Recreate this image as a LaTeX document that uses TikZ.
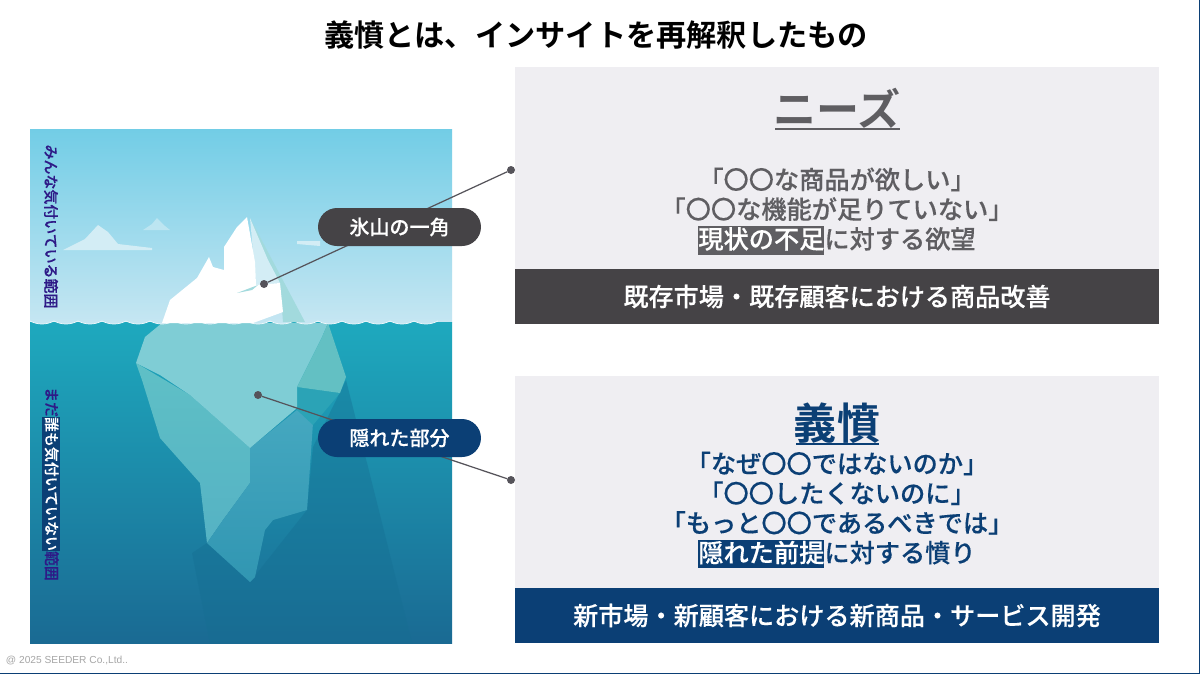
\documentclass[tikz,border=0pt]{standalone}
\usepackage{fontspec}
\setmainfont{Noto Sans CJK JP}[BoldFont={Noto Sans CJK JP Medium},BoldFeatures={FakeBold=.25}]
\newfontfamily\titlefont{Noto Sans CJK JP Bold}
\newfontfamily\latinfont{Liberation Sans}
\usepackage{xcolor}
\definecolor{ggray}{HTML}{454346}
\definecolor{tgray}{HTML}{5F5E62}
\definecolor{nnavy}{HTML}{0B3F75}
\definecolor{ppale}{HTML}{EFEEF2}
\definecolor{dotgray}{HTML}{55535A}
\definecolor{vviolet}{HTML}{2E1A87}
\definecolor{skytop}{HTML}{72CDE6}
\definecolor{skylow}{HTML}{C5E6F2}
\definecolor{seatop}{HTML}{1EA9BE}
\definecolor{sealow}{HTML}{1A6A93}
\definecolor{iceface}{HTML}{7FCDD5}
\definecolor{iceright}{HTML}{63C0C3}
\definecolor{iceleft}{HTML}{5FC0C6}
\definecolor{iceleftb}{HTML}{55B2C4}
\definecolor{icemid}{HTML}{45A8C0}
\definecolor{icemidb}{HTML}{3196B2}
\definecolor{icedark}{HTML}{2BA3B6}
\definecolor{icedeep}{HTML}{156E92}
\definecolor{icetip}{HTML}{A2DADD}
\definecolor{cloudc}{HTML}{D3EDF5}
\usepackage{tikz}
\usetikzlibrary{positioning}
\setlength{\fboxsep}{0pt}
\newcommand{\hlmark}[2]{\colorbox{#1}{\textcolor{white}{\rule[-.24em]{0pt}{1.14em}#2}}}

\begin{document}
\begin{tikzpicture}[x=.02cm,y=-.02cm,
		every node/.style={inner sep=0pt,outer sep=0pt},
		panel/.style={fill=ppale},
		barlabel/.style={text=white,font=\bfseries\fontsize{14.3}{17}\selectfont},
		quote/.style={align=center,font=\bfseries\fontsize{14.35}{16.9}\selectfont},
		heading/.style={font=\titlefont\fontsize{24.5}{28}\selectfont},
		pill/.style={rounded corners=.38cm,minimum width=3.26cm,minimum height=.76cm,text=white,font=\bfseries\fontsize{11.4}{13}\selectfont},
		dotmark/.style={circle,fill=dotgray,minimum size=.16cm},
		side/.style={rotate=-90,text=vviolet,font=\bfseries\fontsize{8.5}{10}\selectfont},
		wave/.style={fill=skylow,draw=white!70!skylow,line width=.4pt}]
	\useasboundingbox (0,0) rectangle (1200,674);
	\fill[white] (0,0) rectangle (1200,674);
	\draw[nnavy,line width=.8pt] (0,673.5) -- (1199.5,673.5) -- (1199.5,0);
	\node (title) at (596,35) {\titlefont\fontsize{17.2}{20}\selectfont 義憤とは、インサイトを再解釈したもの};

	\shade[top color=skytop,bottom color=skylow] (30,129) rectangle (452,322);
	\fill[cloudc] (63,250) -- (85,239) -- (98,225) -- (108,232) -- (118,244) -- (152,248) -- (152,250) -- cycle;
	\fill[cloudc,opacity=.6] (143,230) -- (152,224) -- (157,218) -- (165,226) -- (170,230) -- cycle;
	\fill[cloudc] (297,241) -- (320,241) -- (320,246) -- (297,244) -- cycle;
	\shade[top color=seatop,bottom color=sealow] (30,322) rectangle (452,643);

	\fill[icedeep,opacity=.4] (192,553) -- (207,543) -- (250,582) -- (307,510) -- (313,447) -- (346,380) -- (367,463) -- (412,643) -- (210,643) -- cycle;
	\shade[top color=iceleft,bottom color=iceleftb] (136,363) -- (142,380) -- (160,438) -- (200,483) -- (207,543) -- (223,520) -- (250,483) -- (250,448) -- (190,395) -- cycle;
	\shade[top color=icemid,bottom color=icemidb] (250,448) -- (297,410) -- (313,423) -- (307,510) -- (273,520) -- (265,530) -- (255,577) -- (250,582) -- (207,543) -- (223,520) -- (250,483) -- cycle;
	\fill[icedark] (297,387) -- (340,393) -- (313,425) -- (297,410) -- cycle;
	\fill[iceface] (162,323) -- (145,337) -- (136,363) -- (160,375) -- (190,395) -- (250,448) -- (297,408) -- (297,387) -- (322,337) -- (328,323) -- cycle;
	\fill[iceright] (328,323) -- (346,377) -- (340,393) -- (297,387) -- (322,337) -- cycle;

	\foreach \wx in {30,54,...,430} {
		\draw[wave] (\wx,321) .. controls (\wx+8,325) and (\wx+16,325) .. (\wx+24,321);
	}
	\fill[icetip] (250,218) -- (305,322) -- (283,322) -- (280,283) -- (268,260) -- cycle;
	\fill[cloudc] (250,218) -- (268,260) -- (280,283) -- (256,285) -- cycle;
	\fill[white] (162,323) -- (170,300) -- (197,278) -- (209,257) -- (213,267) -- (224,270) -- (224,247) -- (237,227) -- (247,217) -- (255,262) -- (256,285) -- (280,283) -- (283,312) -- (253,323) -- cycle;
	\fill[icetip] (237,293) -- (258,285) -- (252,290) -- cycle;

	\node[side] (seen) at (51,226.5) {みんな気付いている範囲};
	\node[side] (unseen) at (51,484) {まだ\hlmark{nnavy}{誰も気付いていない}範囲};

	\fill[panel] (515,67) rectangle (1159,269);
	\node[fill=ggray,minimum width=12.88cm,minimum height=1.1cm,barlabel] (needbar) at (837,296.5) {既存市場・既存顧客における商品改善};
	\node[heading,text=tgray] (needs) at (837,108) {ニーズ};
	\draw[tgray,line width=1.4pt] (775,129) -- (900,129);
	\node[quote,text=tgray] (needtext) at (837,211) {「〇〇な商品が欲しい」\\「〇〇な機能が足りていない」\\\hlmark{tgray}{現状の不足}に対する欲望};

	\fill[panel] (515,376) rectangle (1159,588);
	\node[fill=nnavy,minimum width=12.88cm,minimum height=1.1cm,barlabel] (envybar) at (837,615.5) {新市場・新顧客における新商品・サービス開発};
	\node[heading,text=nnavy] (envy) at (837,423) {義憤};
	\draw[nnavy,line width=1.4pt] (796,444) -- (879,444);
	\node[quote,text=nnavy] (envytext) at (837,510) {「なぜ〇〇ではないのか」\\「〇〇したくないのに」\\「もっと〇〇であるべきでは」\\\hlmark{nnavy}{隠れた前提}に対する憤り};

	\node[dotmark] (tip) at (264,284) {};
	\node[dotmark] (needdot) at (511,170) {};
	\node[dotmark] (hidden) at (258,395) {};
	\node[dotmark] (envydot) at (511,480) {};
	\draw[dotgray,line width=.7pt] (tip) -- (needdot);
	\draw[dotgray,line width=.7pt] (hidden) -- (envydot);
	\node[pill,fill=ggray] (tippill) at (399.5,227) {氷山の一角};
	\node[pill,fill=nnavy] (hiddenpill) at (399.5,438) {隠れた部分};

	\node[anchor=west,text=black!35] (credit) at (6,660) {\latinfont\fontsize{5.8}{7}\selectfont @ 2025 SEEDER Co.,Ltd..};
\end{tikzpicture}
\end{document}
